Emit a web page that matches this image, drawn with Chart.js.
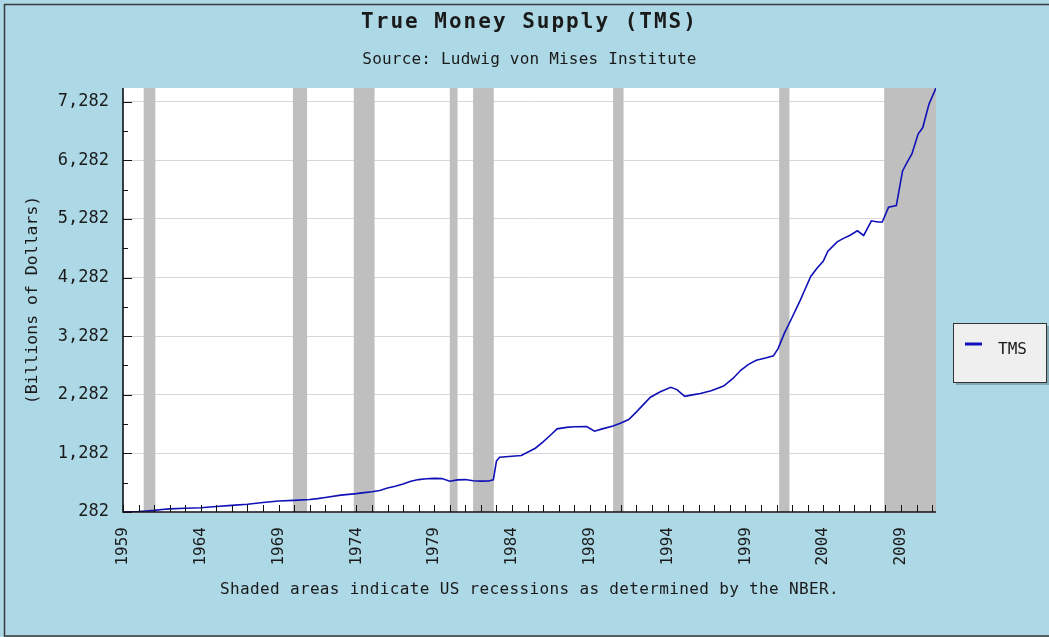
<!DOCTYPE html>
<html>
<head>
<meta charset="utf-8">
<script src="https://cdn.jsdelivr.net/npm/chart.js"></script>
<style>
  body {
    margin: 0;
    background: #add8e6;
  }
  canvas {
    display: block;
  }
</style>
</head>
<body>
<canvas id="tmsChart" width="1049" height="637"></canvas>

<script>
// ==========================
// DATA
// ==========================
const years = [
  1959.0, 1960.0, 1960.5, 1961.0, 1961.5, 1962.0, 1963.0, 1964.0, 1965.0, 1966.0,
  1967.0, 1968.0, 1969.0, 1970.0, 1971.0, 1971.5, 1972.0, 1973.0, 1974.0, 1974.5,
  1975.0, 1975.5, 1976.0, 1976.5, 1977.0, 1977.5, 1978.0, 1978.5, 1979.0, 1979.5,
  1980.0, 1980.5, 1981.0, 1981.5, 1982.0, 1982.5, 1982.8, 1983.0, 1983.2, 1983.6,
  1984.0, 1984.6, 1985.0, 1985.5, 1986.0, 1986.5, 1986.9, 1987.5, 1988.0, 1988.8,
  1989.3, 1989.8, 1990.5, 1991.0, 1991.5, 1992.0, 1992.5, 1992.9, 1993.5, 1994.2,
  1994.6, 1995.1, 1995.6, 1996.1, 1996.8, 1997.6, 1998.2, 1998.7, 1999.2, 1999.7,
  2000.3, 2000.8, 2001.1, 2001.5, 2002.0, 2002.5, 2002.8, 2003.2, 2003.6, 2004.0,
  2004.3, 2004.9, 2005.3, 2005.7, 2006.2, 2006.6, 2007.1, 2007.5, 2007.8, 2008.2,
  2008.7, 2009.1, 2009.4, 2009.7, 2010.1, 2010.4, 2010.8, 2011.25
];

const tmsValues = [
  282, 290, 300, 310, 325, 335, 345, 355, 375, 395,
  415, 445, 470, 480, 495, 510, 530, 570, 595, 612,
  628, 650, 690, 720, 760, 805, 835, 850, 855, 852,
  808, 830, 835, 815, 808, 810, 830, 1150, 1215, 1225,
  1232, 1245, 1300, 1370, 1480, 1600, 1700, 1725, 1735, 1740,
  1660, 1700, 1750, 1800, 1860, 1990, 2130, 2240, 2330, 2410,
  2370, 2255, 2280, 2305, 2350, 2430, 2560, 2700, 2800, 2870,
  2910, 2945, 3070, 3330, 3600, 3880, 4060, 4300, 4440, 4560,
  4730, 4890, 4950, 5000, 5080, 5000, 5250, 5230, 5230, 5480,
  5510, 6100, 6250, 6390, 6730, 6840, 7240, 7515
];

// NBER recessions (shaded)
const recessionStart = [1960.33, 1969.92, 1973.83, 1980.0, 1981.5, 1990.5, 2001.17, 2007.92];
const recessionEnd   = [1961.08, 1970.83, 1975.17, 1980.5, 1982.83, 1991.17, 2001.83, 2011.25];

// tick labels
const xTickYears = [1959, 1964, 1969, 1974, 1979, 1984, 1989, 1994, 1999, 2004, 2009];
const yTickValues = [282, 1282, 2282, 3282, 4282, 5282, 6282, 7282];

const MONO = '"DejaVu Sans Mono", monospace';
const TEXT_COLOR = '#1a1a1a';
const LINE_COLOR = '#1010b8';

// ==========================
// DECORATION PLUGIN
// ==========================
const decorations = {
  id: 'decorations',

  beforeDraw(chart) {
    const { ctx, chartArea: a, width, height } = chart;
    ctx.save();
    ctx.fillStyle = '#add8e6';
    ctx.fillRect(0, 0, width, height);

    // outer frame (left, top, bottom only)
    ctx.strokeStyle = '#3a3a3a';
    ctx.lineWidth = 1.5;
    ctx.beginPath();
    ctx.moveTo(width, 4.5);
    ctx.lineTo(4.5, 4.5);
    ctx.lineTo(4.5, height - 1);
    ctx.lineTo(width, height - 1);
    ctx.stroke();

    // plot background
    ctx.fillStyle = '#ffffff';
    ctx.fillRect(a.left, a.top, a.right - a.left, a.bottom - a.top);

    // titles
    const cx = (a.left + a.right) / 2;
    ctx.fillStyle = TEXT_COLOR;
    ctx.textAlign = 'center';
    ctx.textBaseline = 'middle';

    ctx.font = 'bold 21px ' + MONO;
    ctx.letterSpacing = '2px';
    ctx.fillText('True Money Supply (TMS)', cx, 23);

    ctx.font = '16px ' + MONO;
    ctx.letterSpacing = '0.2px';
    ctx.fillText('Source: Ludwig von Mises Institute', cx, 60);

    ctx.letterSpacing = '0.35px';
    ctx.fillText('Shaded areas indicate US recessions as determined by the NBER.', cx, 590);
    ctx.letterSpacing = '0px';
    ctx.restore();
  },

  beforeDatasetsDraw(chart) {
    const { ctx, chartArea: a, scales } = chart;
    ctx.save();
    ctx.fillStyle = '#bfbfbf';
    recessionStart.forEach((s, i) => {
      const x0 = scales.x.getPixelForValue(s);
      const x1 = scales.x.getPixelForValue(recessionEnd[i]);
      ctx.fillRect(x0, a.top, x1 - x0, a.bottom - a.top);
    });
    ctx.restore();
  },

  afterDatasetsDraw(chart) {
    const { ctx, chartArea: a, scales } = chart;
    const xs = scales.x;
    const ys = scales.y;
    ctx.save();
    ctx.strokeStyle = '#111';
    ctx.lineWidth = 1;

    // y ticks (inside), major + minor
    yTickValues.forEach((v) => {
      let py = Math.round(ys.getPixelForValue(v)) + 0.5;
      ctx.beginPath();
      ctx.moveTo(a.left, py);
      ctx.lineTo(a.left + 9, py);
      ctx.stroke();
      if (v + 500 < ys.max) {
        py = Math.round(ys.getPixelForValue(v + 500)) + 0.5;
        ctx.beginPath();
        ctx.moveTo(a.left, py);
        ctx.lineTo(a.left + 5, py);
        ctx.stroke();
      }
    });

    // x ticks (inside), one per year
    for (let yr = xTickYears[0]; yr <= xs.max; yr++) {
      const px = Math.round(xs.getPixelForValue(yr)) + 0.5;
      ctx.beginPath();
      ctx.moveTo(px, a.bottom);
      ctx.lineTo(px, a.bottom - 7);
      ctx.stroke();
    }

    // axis lines
    ctx.lineWidth = 1.6;
    ctx.beginPath();
    ctx.moveTo(a.left, a.top);
    ctx.lineTo(a.left, a.bottom);
    ctx.lineTo(a.right, a.bottom);
    ctx.stroke();

    // legend box
    const ds = chart.data.datasets[0];
    const lx = 953, ly = 323, lw = 93, lh = 59;
    ctx.fillStyle = 'rgba(60,80,90,0.35)';
    ctx.fillRect(lx + 3, ly + 3, lw, lh);
    ctx.fillStyle = '#efefef';
    ctx.fillRect(lx, ly, lw, lh);
    ctx.strokeStyle = '#333';
    ctx.lineWidth = 1;
    ctx.strokeRect(lx + 0.5, ly + 0.5, lw, lh);

    ctx.strokeStyle = ds.borderColor;
    ctx.lineWidth = 3;
    ctx.beginPath();
    ctx.moveTo(965, 344);
    ctx.lineTo(982, 344);
    ctx.stroke();

    ctx.fillStyle = TEXT_COLOR;
    ctx.font = '16px ' + MONO;
    ctx.textAlign = 'left';
    ctx.textBaseline = 'middle';
    ctx.fillText(ds.label, 998, 350);
    ctx.restore();
  }
};

// ==========================
// CHART
// ==========================
new Chart(document.getElementById('tmsChart'), {
  type: 'line',
  data: {
    datasets: [{
      label: 'TMS',
      data: years.map((yr, i) => ({ x: yr, y: tmsValues[i] })),
      borderColor: LINE_COLOR,
      borderWidth: 1.6,
      pointRadius: 0,
      tension: 0
    }]
  },
  options: {
    responsive: false,
    animation: false,
    devicePixelRatio: 1,
    layout: {
      padding: { top: 88, right: 113, bottom: 0, left: 0 }
    },
    plugins: {
      legend: { display: false },
      tooltip: { enabled: false }
    },
    scales: {
      x: {
        type: 'linear',
        min: 1959,
        max: 2011.25,
        afterBuildTicks: (scale) => {
          scale.ticks = xTickYears.map((v) => ({ value: v }));
        },
        afterFit: (scale) => { scale.height = 125; },
        grid: { display: false, drawTicks: false },
        border: { display: false },
        ticks: {
          minRotation: 90,
          maxRotation: 90,
          padding: 15,
          color: TEXT_COLOR,
          font: { family: MONO, size: 16 },
          callback: (v) => String(v)
        }
      },
      y: {
        type: 'linear',
        min: 282,
        max: 7515,
        afterBuildTicks: (scale) => {
          scale.ticks = yTickValues.map((v) => ({ value: v }));
        },
        afterFit: (scale) => { scale.width = 123; },
        grid: { color: '#dcd4dc', lineWidth: 1, drawTicks: false },
        border: { display: false },
        ticks: {
          padding: 14,
          color: TEXT_COLOR,
          font: { family: MONO, size: 17 },
          callback: (v) => v.toLocaleString('en-US')
        },
        title: {
          display: true,
          text: '(Billions of Dollars)',
          color: TEXT_COLOR,
          font: { family: MONO, size: 16.5 },
          padding: { top: 23, bottom: 0 }
        }
      }
    }
  },
  plugins: [decorations]
});
</script>
</body>
</html>
